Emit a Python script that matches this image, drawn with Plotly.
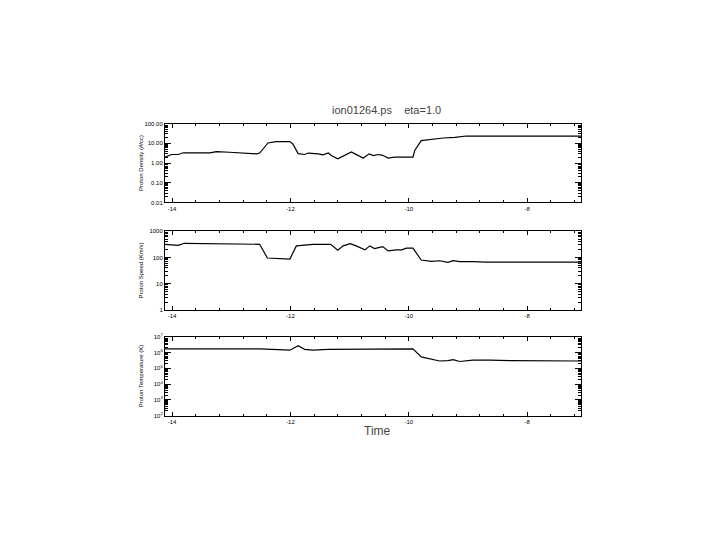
import plotly.graph_objects as go

# ---- data ----
dens_t = [-14.12, -14.01, -13.90, -13.81, -13.36, -13.25, -13.03, -12.57, -12.52, -12.38,
          -12.24, -12.01, -11.96, -11.87, -11.76, -11.70, -11.53, -11.45, -11.36, -11.31,
          -11.20, -11.05, -10.97, -10.91, -10.77, -10.67, -10.60, -10.52, -10.44, -10.35,
          -10.24, -9.93, -9.90, -9.79, -9.59, -9.42, -9.22, -9.03, -7.09]
dens_v = [2.0, 2.7, 2.7, 3.3, 3.3, 3.8, 3.5, 2.9, 3.2, 10.4,
          12.1, 12.1, 9.2, 3.0, 2.7, 3.2, 2.9, 2.6, 3.2, 2.4,
          1.65, 2.7, 3.6, 2.9, 1.78, 2.9, 2.4, 2.7, 2.45, 1.78,
          2.0, 2.0, 4.3, 13.6, 16.4, 18.5, 20.0, 23.3, 23.3]

speed_t = [-14.12, -13.90, -13.79, -12.52, -12.39, -12.01, -11.90, -11.62, -11.32, -11.20,
           -11.11, -10.99, -10.89, -10.74, -10.66, -10.58, -10.44, -10.35, -10.21, -10.12,
           -10.04, -9.93, -9.79, -9.62, -9.48, -9.34, -9.25, -9.14, -8.92, -8.69, -7.09]
speed_v = [316, 290, 345, 316, 95, 87, 275, 316, 316, 189,
           275, 335, 275, 194, 275, 218, 259, 178, 194, 194,
           224, 224, 80, 71, 75, 65, 75, 69, 69, 66, 66]

temp_t = [-14.12, -12.52, -12.01, -11.87, -11.76, -11.62, -11.36, -10.91, -10.35, -9.93,
          -9.79, -9.65, -9.48, -9.34, -9.25, -9.14, -8.92, -8.62, -8.29, -7.09]
temp_v = [1.7e6, 1.7e6, 1.4e6, 2.7e6, 1.6e6, 1.4e6, 1.6e6, 1.6e6, 1.7e6, 1.7e6,
          5.3e5, 4.0e5, 2.9e5, 3.1e5, 3.5e5, 2.7e5, 3.3e5, 3.3e5, 3.1e5, 2.9e5]

x_ticks = [-14, -12, -10, -8]
dens_ticks = [100, 10, 1, 0.1, 0.01]
dens_labels = ["100.00", "10.00", "1.00", "0.10", "0.01"]
speed_ticks = [1000, 100, 10, 1]
speed_labels = ["1000", "100", "10", "1"]
temp_ticks = [1e7, 1e6, 1e5, 1e4, 1e3, 1e2]
temp_labels = ["10<sup>7</sup>", "10<sup>6</sup>", "10<sup>5</sup>", "10<sup>4</sup>",
               "10<sup>3</sup>", "10<sup>2</sup>"]

W, H = 720, 540
OFF = 8  # page body margin offset


def px(x):
    return (x - OFF) / W


def py(y):
    return 1 - (y - OFF) / H


xdom = [px(165), px(581)]
doms = [[py(201), py(121)], [py(310), py(230)], [py(417), py(337)]]

fig = go.Figure()
line = dict(color="black", width=1.2)
fig.add_trace(go.Scatter(x=dens_t, y=dens_v, mode="lines", line=line, xaxis="x", yaxis="y"))
fig.add_trace(go.Scatter(x=speed_t, y=speed_v, mode="lines", line=line, xaxis="x2", yaxis="y2"))
fig.add_trace(go.Scatter(x=temp_t, y=temp_v, mode="lines", line=line, xaxis="x3", yaxis="y3"))

tickfont = dict(family="Liberation Sans, Arial", size=6, color="black")
xax = dict(domain=xdom, range=[-14.12, -7.09], tickvals=x_ticks, ticktext=[str(v) for v in x_ticks],
           ticks="inside", ticklen=4, mirror="ticks", showline=True, linecolor="black", linewidth=1,
           showgrid=False, zeroline=False, tickfont=tickfont, tickcolor="black",
           minor=dict(ticks="inside", ticklen=2, dtick=0.4, tick0=-14, tickcolor="black", showgrid=False))


def yax(dom, rng, tv, tt, anchor):
    return dict(domain=dom, type="log", range=rng, tickvals=tv, ticktext=tt, anchor=anchor,
                ticks="inside", ticklen=6, mirror="ticks", showline=True, linecolor="black",
                linewidth=1, showgrid=False, zeroline=False, tickfont=tickfont, tickcolor="black",
                minor=dict(ticks="inside", ticklen=3, dtick="D1", tickcolor="black", showgrid=False))


fig.update_layout(
    width=W, height=H, margin=dict(l=0, r=0, t=0, b=0),
    paper_bgcolor="white", plot_bgcolor="white", showlegend=False,
    xaxis=dict(xax, anchor="y"),
    xaxis2=dict(xax, anchor="y2"),
    xaxis3=dict(xax, anchor="y3"),
    yaxis=yax(doms[0], [-2, 2], dens_ticks, dens_labels, "x"),
    yaxis2=yax(doms[1], [0, 3], speed_ticks, speed_labels, "x2"),
    yaxis3=yax(doms[2], [2, 7], temp_ticks, temp_labels, "x3"),
)

ann_font = dict(family="Liberation Sans, Arial", size=6, color="black")
for txt, yc in [("Proton Density (#/cc)", (121 + 201) / 2),
                ("Proton Speed (Km/s)", (230 + 310) / 2),
                ("Proton Temperature (K)", (337 + 417) / 2)]:
    fig.add_annotation(text=txt, x=px(141), y=py(yc), xref="paper", yref="paper",
                       textangle=-90, showarrow=False, font=ann_font, xanchor="center", yanchor="middle")

fig.add_annotation(text="ion01264.ps    eta=1.0", x=px(386), y=py(107), xref="paper", yref="paper",
                   showarrow=False, font=dict(family="Liberation Sans, Arial", size=11, color="#444"),
                   xanchor="center", yanchor="middle")
fig.add_annotation(text="Time", x=px(378), y=py(433), xref="paper", yref="paper",
                   showarrow=False, font=dict(family="Liberation Sans, Arial", size=12, color="#444"),
                   xanchor="center", yanchor="middle")

fig.write_html("out.html")
